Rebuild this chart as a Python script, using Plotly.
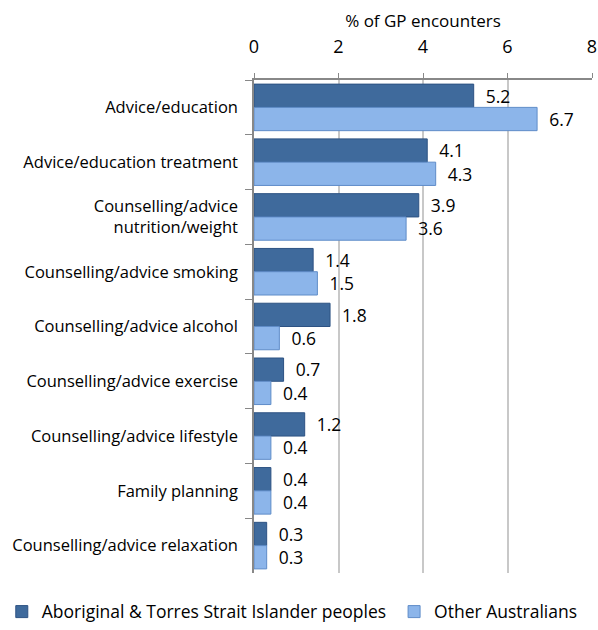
import plotly.graph_objects as go

categories = [
    "Advice/education",
    "Advice/education treatment",
    "Counselling/advice<br>nutrition/weight",
    "Counselling/advice smoking",
    "Counselling/advice alcohol",
    "Counselling/advice exercise",
    "Counselling/advice lifestyle",
    "Family planning",
    "Counselling/advice relaxation",
]
indigenous = [5.2, 4.1, 3.9, 1.4, 1.8, 0.7, 1.2, 0.4, 0.3]
other = [6.7, 4.3, 3.6, 1.5, 0.6, 0.4, 0.4, 0.4, 0.3]
x_ticks = [0, 2, 4, 6, 8]

font = "'Open Sans', sans-serif"

fig = go.Figure()
fig.add_trace(go.Bar(
    y=categories, x=indigenous, orientation="h",
    name="Aboriginal & Torres Strait Islander peoples",
    marker=dict(color="#3f6a9c", line=dict(color="#2d5283", width=1)),
    texttemplate="  %{x:.1f}", textposition="outside",
    textfont=dict(size=18, color="#000"), cliponaxis=False,
    legend="legend",
))
fig.add_trace(go.Bar(
    y=categories, x=other, orientation="h",
    name="Other Australians",
    marker=dict(color="#8cb5ea", line=dict(color="#5f8cc8", width=1)),
    texttemplate="  %{x:.1f}", textposition="outside",
    textfont=dict(size=18, color="#000"), cliponaxis=False,
    legend="legend2",
))

legend_style = dict(orientation="h", xref="container", xanchor="left",
                    yref="container", y=0.029, yanchor="middle",
                    font=dict(size=17.5), itemwidth=30)

fig.update_layout(
    width=598, height=630,
    margin=dict(l=254, r=6, t=80, b=57, autoexpand=False),
    paper_bgcolor="white", plot_bgcolor="white",
    font=dict(family=font, size=16, color="#000"),
    barmode="group", bargap=0.15, bargroupgap=0.0,
    legend=dict(x=0.003, **legend_style),
    legend2=dict(x=0.659, **legend_style),
    showlegend=True,
)
fig.update_xaxes(
    side="top", range=[0, 8], tickvals=x_ticks, tickfont=dict(size=18),
    title=dict(text="% of GP encounters", font=dict(size=17), standoff=2),
    showgrid=True, gridcolor="#c8c8c8", gridwidth=1.5,
    showline=True, linecolor="#888", linewidth=1.5,
    ticks="outside", ticklen=5, tickcolor="#888", zeroline=False,
    ticklabelstandoff=13, automargin=False,
)
fig.update_yaxes(
    autorange="reversed", tickson="boundaries", ticks="outside", ticklen=7,
    tickcolor="#888", showline=True, linecolor="#888", linewidth=1.5,
    showgrid=False, tickfont=dict(size=16.5), ticklabelstandoff=11,
    automargin=False,
)

fig.write_html("out.html", config={"displayModeBar": False},
               post_script="document.body.style.margin='0';")
